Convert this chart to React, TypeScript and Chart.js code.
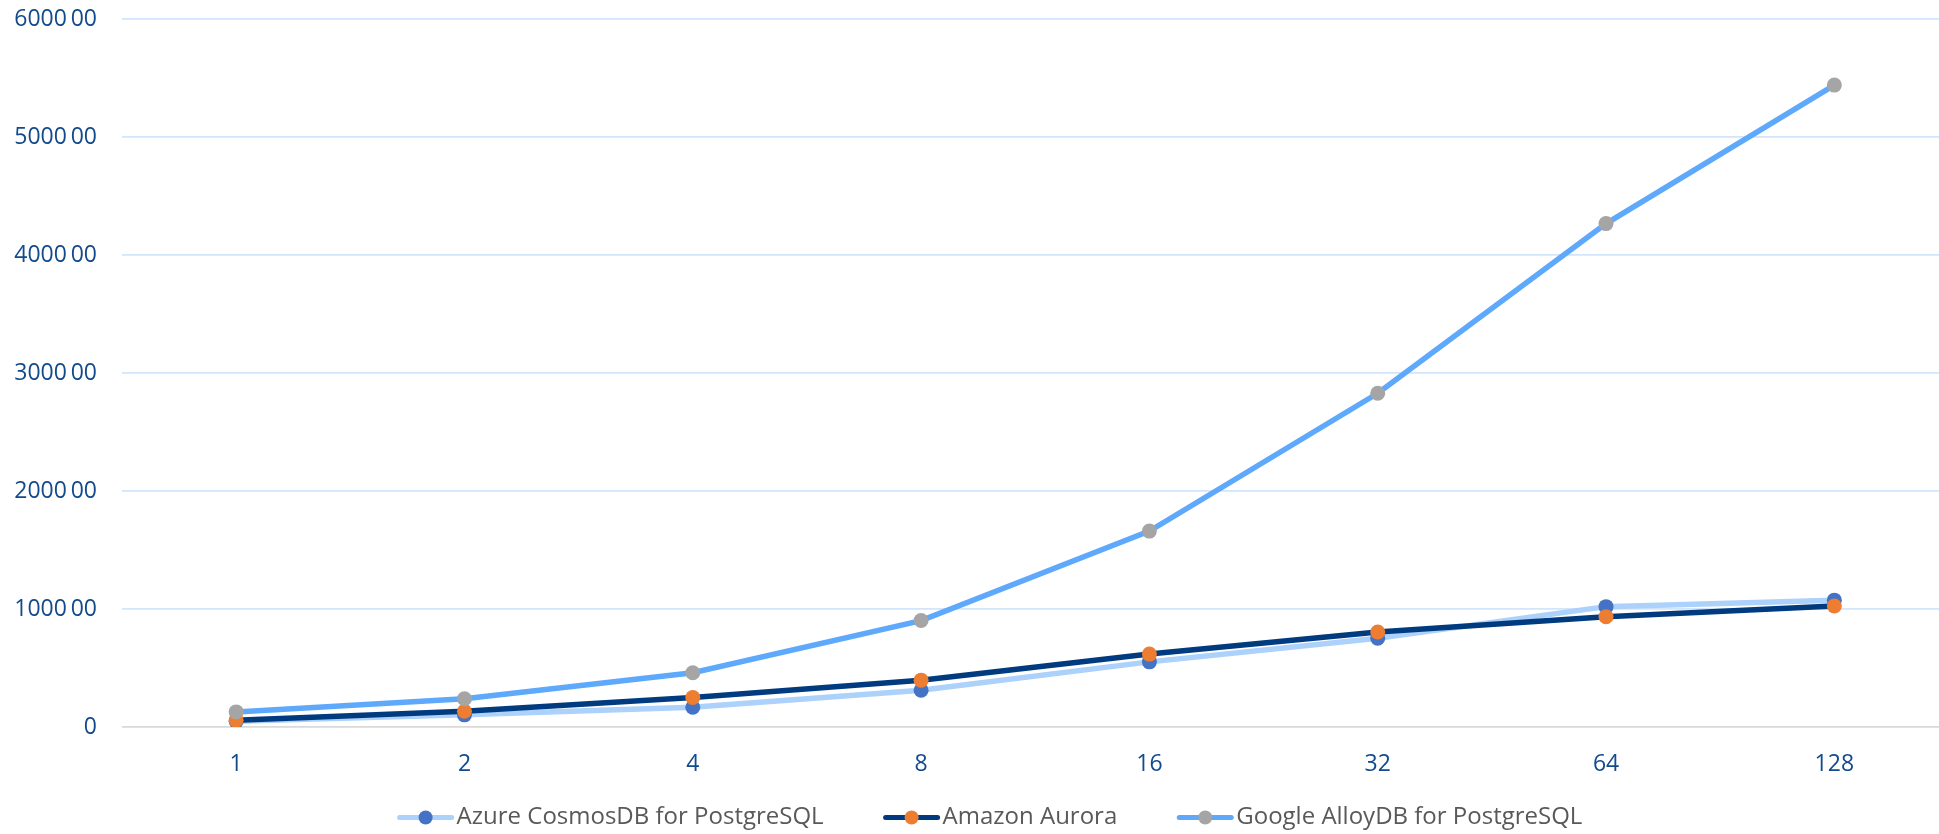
import React, { useEffect, useRef } from "react";
import { Chart, registerables } from "chart.js";

Chart.register(...registerables);

const categories = ["1", "2", "4", "8", "16", "32", "64", "128"];
const cosmosValues = [4800, 10300, 16700, 31200, 55200, 75300, 102000, 107500];
const auroraValues = [5800, 13400, 25000, 39700, 61800, 80500, 93500, 102500];
const alloyValues = [12800, 24000, 46000, 90200, 166000, 282800, 426600, 544000];
const seriesNames = ["Azure CosmosDB for PostgreSQL", "Amazon Aurora", "Google AlloyDB for PostgreSQL"];
const yTickValues = [0, 100000, 200000, 300000, 400000, 500000, 600000];
const yTickLabels = ["0", "1000\u200900", "2000\u200900", "3000\u200900", "4000\u200900", "5000\u200900", "6000\u200900"];

const lineColors = ["#acd1fb", "#003b7f", "#5ea9fc"];
const pointColors = ["#4472c4", "#ed7d31", "#a5a5a5"];
const FONT = "'Open Sans', 'Noto Sans', sans-serif";

const legendPlugin = {
  id: "customLegend",
  afterDraw(chart: any) {
    const ctx = chart.ctx;
    ctx.save();
    ctx.font = `24px ${FONT}`;
    const lineLen = 56;
    const gapText = 3;
    const gapItem = 60;
    const widths = seriesNames.map((n) => lineLen + gapText + ctx.measureText(n).width);
    const total = widths.reduce((a, b) => a + b, 0) + gapItem * (seriesNames.length - 1);
    let x = 990 - total / 2;
    const y = 817.5;
    seriesNames.forEach((name, i) => {
      ctx.strokeStyle = lineColors[i];
      ctx.lineWidth = 5;
      ctx.lineCap = "round";
      ctx.beginPath();
      ctx.moveTo(x + 2, y);
      ctx.lineTo(x + lineLen - 2, y);
      ctx.stroke();
      ctx.fillStyle = pointColors[i];
      ctx.beginPath();
      ctx.arc(x + lineLen / 2, y, 7, 0, Math.PI * 2);
      ctx.fill();
      ctx.fillStyle = "#595959";
      ctx.textAlign = "left";
      ctx.textBaseline = "middle";
      ctx.fillText(name, x + lineLen + gapText, y);
      x += widths[i] + gapItem;
    });
    ctx.restore();
  },
};

export default function App() {
  const ref = useRef<HTMLCanvasElement | null>(null);
  useEffect(() => {
    document.body.style.margin = "0";
    const canvas = ref.current!;
    const seriesData = [cosmosValues, auroraValues, alloyValues];
    const chart = new Chart(canvas, {
      type: "line",
      data: {
        labels: categories,
        datasets: seriesData.map((d, i) => ({
          label: seriesNames[i],
          data: d,
          borderColor: lineColors[i],
          backgroundColor: pointColors[i],
          borderWidth: 5.5,
          pointRadius: 7.5,
          pointBorderWidth: 0,
          pointBackgroundColor: pointColors[i],
          pointBorderColor: pointColors[i],
          tension: 0,
          order: 3 - i,
        })),
      },
      options: {
        responsive: false,
        animation: false,
        layout: { padding: { top: 19, bottom: 56, left: 0, right: 0 } },
        plugins: { legend: { display: false }, tooltip: { enabled: false } },
        scales: {
          x: {
            offset: true,
            grid: { display: false, drawTicks: false },
            border: { display: false },
            ticks: { color: "#124a8c", font: { family: FONT, size: 23 }, padding: 24 },
            afterFit(scale: any) {
              scale.height = 51;
              scale.paddingLeft = 0;
              scale.paddingRight = 0;
            },
          },
          y: {
            min: 0,
            max: 600000,
            afterBuildTicks(scale: any) {
              scale.ticks = yTickValues.map((v) => ({ value: v }));
            },
            grid: {
              drawTicks: false,
              lineWidth: 1.8,
              color: (c: any) => (c.tick && c.tick.value === 0 ? "#d9d9d9" : "#d3e5fb"),
            },
            border: { display: false },
            ticks: {
              color: "#124a8c",
              font: { family: FONT, size: 23 },
              padding: 25,
              callback: (v: any) => {
                const idx = yTickValues.indexOf(Number(v));
                return idx >= 0 ? yTickLabels[idx] : "";
              },
            },
            afterFit(scale: any) {
              scale.width = 122;
              scale.paddingTop = 0;
              scale.paddingBottom = 0;
            },
          },
        },
      },
      plugins: [legendPlugin],
    });
    return () => chart.destroy();
  }, []);
  return (
    <div style={{ width: 1939, height: 834, overflow: "hidden", background: "#fff" }}>
      <canvas ref={ref} width={1956} height={834} style={{ display: "block" }} />
    </div>
  );
}
